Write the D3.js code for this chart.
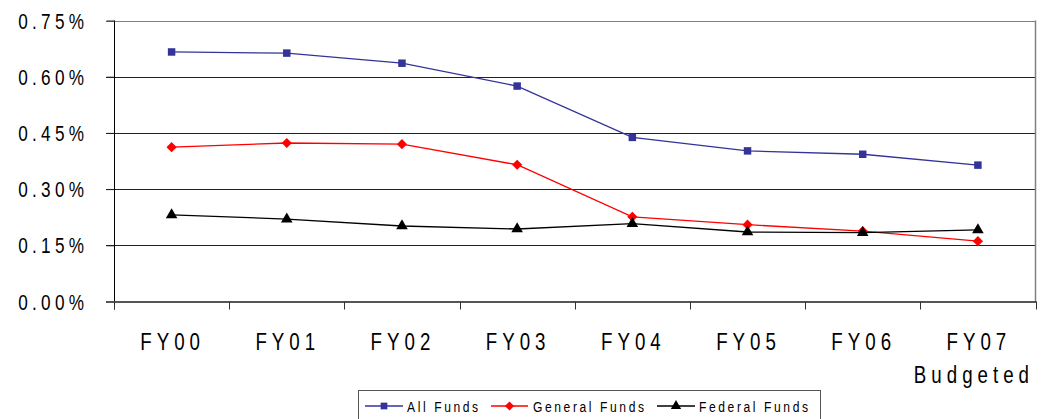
<!DOCTYPE html>
<html><head><meta charset="utf-8">
<script src="https://cdn.jsdelivr.net/npm/d3@7/dist/d3.min.js"></script>
<style>
body{margin:0;background:#fff;}
svg text{font-family:"Liberation Sans",Arial,sans-serif;fill:#000;}
</style></head>
<body><svg id="c" width="1047" height="419"></svg>
<script>
const categories = ["FY00","FY01","FY02","FY03","FY04","FY05","FY06","FY07"];
const allFunds     = [0.666,0.663,0.636,0.575,0.438,0.402,0.393,0.364];
const generalFunds = [0.412,0.423,0.420,0.365,0.226,0.205,0.188,0.161];
const federalFunds = [0.231,0.220,0.2015,0.1935,0.208,0.1855,0.184,0.191];
const yTicks = [0,0.15,0.30,0.45,0.60,0.75];
const seriesNames = ["All Funds","General Funds","Federal Funds"];

const svg = d3.select("#c");
const L=114, R=1035.5, T=20.5, B=301.5;
const SX = 0.78; // horizontal compression to mimic narrow font
const x = d3.scaleBand().domain(categories).range([L,R]);
const y = d3.scaleLinear().domain([0,0.75]).range([B,T]);

function ntext(g, tx, ty, str, size, ls, anchor){
  return g.append("text")
    .attr("transform",`translate(${tx},${ty}) scale(${SX},1)`)
    .attr("font-size",size).attr("letter-spacing",(ls/SX)+"px")
    .attr("text-anchor",anchor||"start").text(str);
}

// gridlines
svg.append("g").selectAll("line").data(yTicks.filter(d=>d>0)).join("line")
  .attr("x1",106).attr("x2",R).attr("y1",d=>Math.round(y(d))+0.5).attr("y2",d=>Math.round(y(d))+0.5)
  .attr("stroke",d=>d===0.75?"#808080":"#222").attr("stroke-width",1);
// right border
svg.append("line").attr("x1",R).attr("x2",R).attr("y1",T).attr("y2",B).attr("stroke","#808080").attr("stroke-width",1.5);

// y axis
const yAxis = d3.axisLeft(y).tickValues(yTicks).tickSize(8).tickFormat("");
const gy = svg.append("g").attr("transform",`translate(${L+0.5},0)`).call(yAxis);
gy.select(".domain").attr("stroke","#000").attr("d",`M0,${T}V${B+8}`);
gy.selectAll(".tick line").attr("stroke","#222");
const ylab = svg.append("g");
yTicks.forEach(v=>{
  ntext(ylab, 84+4.3, y(v)+8, d3.format(".2f")(v)+"%", 22, 4.3, "end");
});

// x axis
const xAxis = d3.axisBottom(x).tickSize(0).tickFormat("");
const gx = svg.append("g").attr("transform",`translate(0,${B})`).call(xAxis);
gx.select(".domain").remove();
svg.append("line").attr("x1",106).attr("x2",R+1).attr("y1",B+0.5).attr("y2",B+0.5).attr("stroke","#555").attr("stroke-width",2);
const edges = categories.map(c=>x(c)).concat([x(categories[categories.length-1])+x.bandwidth()]);
svg.append("g").selectAll("line").data(edges).join("line")
  .attr("x1",d=>Math.round(d)+0.5).attr("x2",d=>Math.round(d)+0.5).attr("y1",B).attr("y2",B+8).attr("stroke","#333");
const xlab = svg.append("g");
categories.forEach(c=>{
  ntext(xlab, x(c)+x.bandwidth()/2+1, 349.5, c, 24, 5, "middle");
});
ntext(xlab, x("FY07")+x.bandwidth()/2-4, 383, "Budgeted", 24, 5, "middle");

// series
const series = [
  {name:seriesNames[0], vals:allFunds, color:"#333399", sym:d3.symbolSquare, size:56},
  {name:seriesNames[1], vals:generalFunds, color:"#FF0000", sym:d3.symbolDiamond2, size:66},
  {name:seriesNames[2], vals:federalFunds, color:"#000000", sym:d3.symbolTriangle, size:58}
];
const cx = d=>x(d)+x.bandwidth()/2;
const line = d3.line().x((d,i)=>cx(categories[i])).y(d=>y(d));
series.forEach(s=>{
  svg.append("path").attr("d",line(s.vals)).attr("fill","none").attr("stroke",s.color).attr("stroke-width",1.3);
  svg.append("g").selectAll("path").data(s.vals).join("path")
    .attr("transform",(d,i)=>`translate(${cx(categories[i])},${y(d)})`)
    .attr("d",d3.symbol(s.sym,s.size)).attr("fill",s.color);
});

// legend
const lg = svg.append("g");
lg.append("rect").attr("x",358.5).attr("y",390.5).attr("width",462).attr("height",34).attr("fill","#fff").attr("stroke","#555");
const lpos = [{x0:365,x1:403,tx:407},{x0:491,x1:528,tx:533},{x0:657,x1:695,tx:699}];
series.forEach((s,i)=>{
  const p=lpos[i], ly=406;
  lg.append("line").attr("x1",p.x0).attr("x2",p.x1).attr("y1",ly).attr("y2",ly).attr("stroke",s.color).attr("stroke-width",1.3);
  lg.append("path").attr("transform",`translate(${(p.x0+p.x1)/2},${ly})`).attr("d",d3.symbol(s.sym,s.size*0.8)).attr("fill",s.color);
  ntext(lg, p.tx, 411.5, s.name, 15.5, 2.6, "start");
});
</script></body></html>
